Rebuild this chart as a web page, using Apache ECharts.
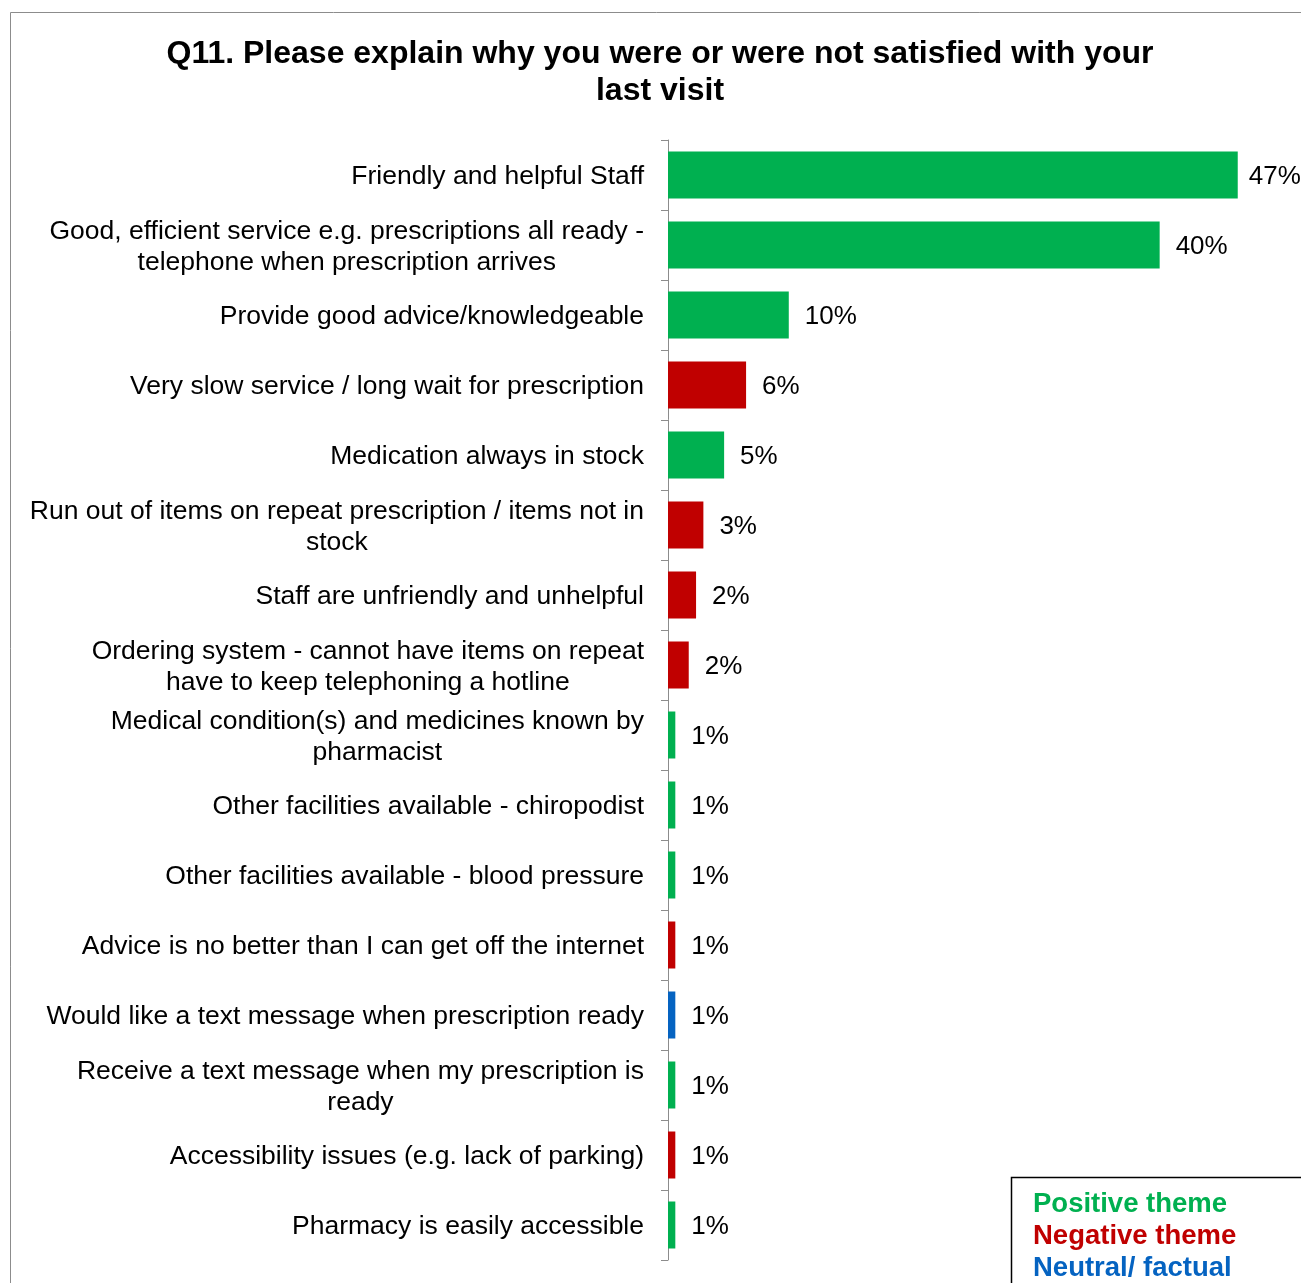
<!DOCTYPE html>
<html>
<head>
<meta charset="utf-8">
<script src="https://cdn.jsdelivr.net/npm/echarts@6/dist/echarts.min.js"></script>
<style>
  html, body { margin: 0; padding: 0; background: #fff; }
  #chart { width: 1301px; height: 1283px; }
</style>
</head>
<body>
<div id="chart"></div>
<script>
const titleText = 'Q11. Please explain why you were or were not satisfied with your\nlast visit';
const categories = [
  'Friendly and helpful Staff',
  'Good, efficient service e.g. prescriptions all ready -\ntelephone when prescription arrives',
  'Provide good advice/knowledgeable',
  'Very slow service / long wait for prescription',
  'Medication always in stock',
  'Run out of items on repeat prescription / items not in\nstock',
  'Staff are unfriendly and unhelpful',
  'Ordering system - cannot have items on repeat\nhave to keep telephoning a hotline',
  'Medical condition(s) and medicines known by\npharmacist',
  'Other facilities available - chiropodist',
  'Other facilities available - blood pressure',
  'Advice is no better than I can get off the internet',
  'Would like a text message when prescription ready',
  'Receive a text message when my prescription is\nready',
  'Accessibility issues (e.g. lack of parking)',
  'Pharmacy is easily accessible'
];
const values = [46.7, 40.3, 9.9, 6.4, 4.6, 2.9, 2.3, 1.7, 0.6, 0.6, 0.6, 0.6, 0.6, 0.6, 0.6, 0.6];
const themes = ['pos', 'pos', 'pos', 'neg', 'pos', 'neg', 'neg', 'neg', 'pos', 'pos', 'pos', 'neg', 'neu', 'pos', 'neg', 'pos'];
const themeNames = ['Positive theme', 'Negative theme', 'Neutral/ factual'];
const themeKeys = ['pos', 'neg', 'neu'];

const barColors = { pos: '#00B050', neg: '#C00000', neu: '#0563C1' };
const legendColors = { pos: '#00B050', neg: '#C00000', neu: '#0563C1' };
const FONT = '"Liberation Sans", Arial, sans-serif';
const AXIS_MAX = 50;

const chart = echarts.init(document.getElementById('chart'), null, { renderer: 'canvas' });

const legendTexts = themeKeys.map((k, i) => ({
  type: 'text',
  left: 1033,
  top: 1190 + i * 32,
  z: 10,
  style: {
    text: themeNames[i],
    fill: legendColors[k],
    font: 'bold 27.5px ' + FONT
  }
}));

const option = {
  backgroundColor: '#ffffff',
  animation: false,
  graphic: [
    {
      type: 'rect',
      shape: { x: 10.5, y: 12.5, width: 1320, height: 1300 },
      style: { fill: 'none', stroke: '#8c8c8c', lineWidth: 1 },
      silent: true, z: 0
    },
    {
      type: 'text',
      x: 660,
      y: 36,
      style: {
        text: titleText,
        fill: '#000',
        font: 'bold 32px ' + FONT,
        lineHeight: 37,
        textAlign: 'center',
        textVerticalAlign: 'top'
      },
      z: 10
    },
    {
      type: 'rect',
      shape: { x: 1011.5, y: 1177.5, width: 320, height: 140 },
      style: { fill: '#fff', stroke: '#000', lineWidth: 1.5 },
      z: 9
    }
  ].concat(legendTexts),
  grid: { left: 668, top: 140, width: 610, bottom: 23, containLabel: false },
  xAxis: {
    type: 'value', min: 0, max: AXIS_MAX, show: false,
    splitLine: { show: false }
  },
  yAxis: {
    type: 'category',
    inverse: true,
    data: categories,
    axisLine: { show: true, lineStyle: { color: '#8c8c8c', width: 1 } },
    axisTick: { show: true, length: 7, lineStyle: { color: '#8c8c8c' } },
    axisLabel: {
      margin: 24,
      color: '#000',
      fontSize: 26.5,
      fontFamily: FONT,
      lineHeight: 31,
      padding: [4, 0, 0, 0],
      formatter: function (v) {
        return v.split('\n').map(function (s) { return '{c|' + s + '}'; }).join('\n');
      },
      rich: {
        c: { align: 'center', fontSize: 26.5, fontFamily: FONT, color: '#000', lineHeight: 31 }
      }
    }
  },
  series: [{
    type: 'bar',
    barWidth: 47,
    data: values.map(function (v, i) {
      const item = { value: v, itemStyle: { color: barColors[themes[i]] } };
      // label squeezed toward the bar when it would overflow the chart edge
      if (v > AXIS_MAX * 0.9) item.label = { distance: 11 };
      return item;
    }),
    label: {
      show: true,
      position: 'right',
      distance: 16,
      offset: [0, 2],
      color: '#000',
      fontSize: 26,
      fontFamily: FONT,
      formatter: function (p) { return Math.round(p.value) + '%'; }
    }
  }]
};
chart.setOption(option);
</script>
</body>
</html>
